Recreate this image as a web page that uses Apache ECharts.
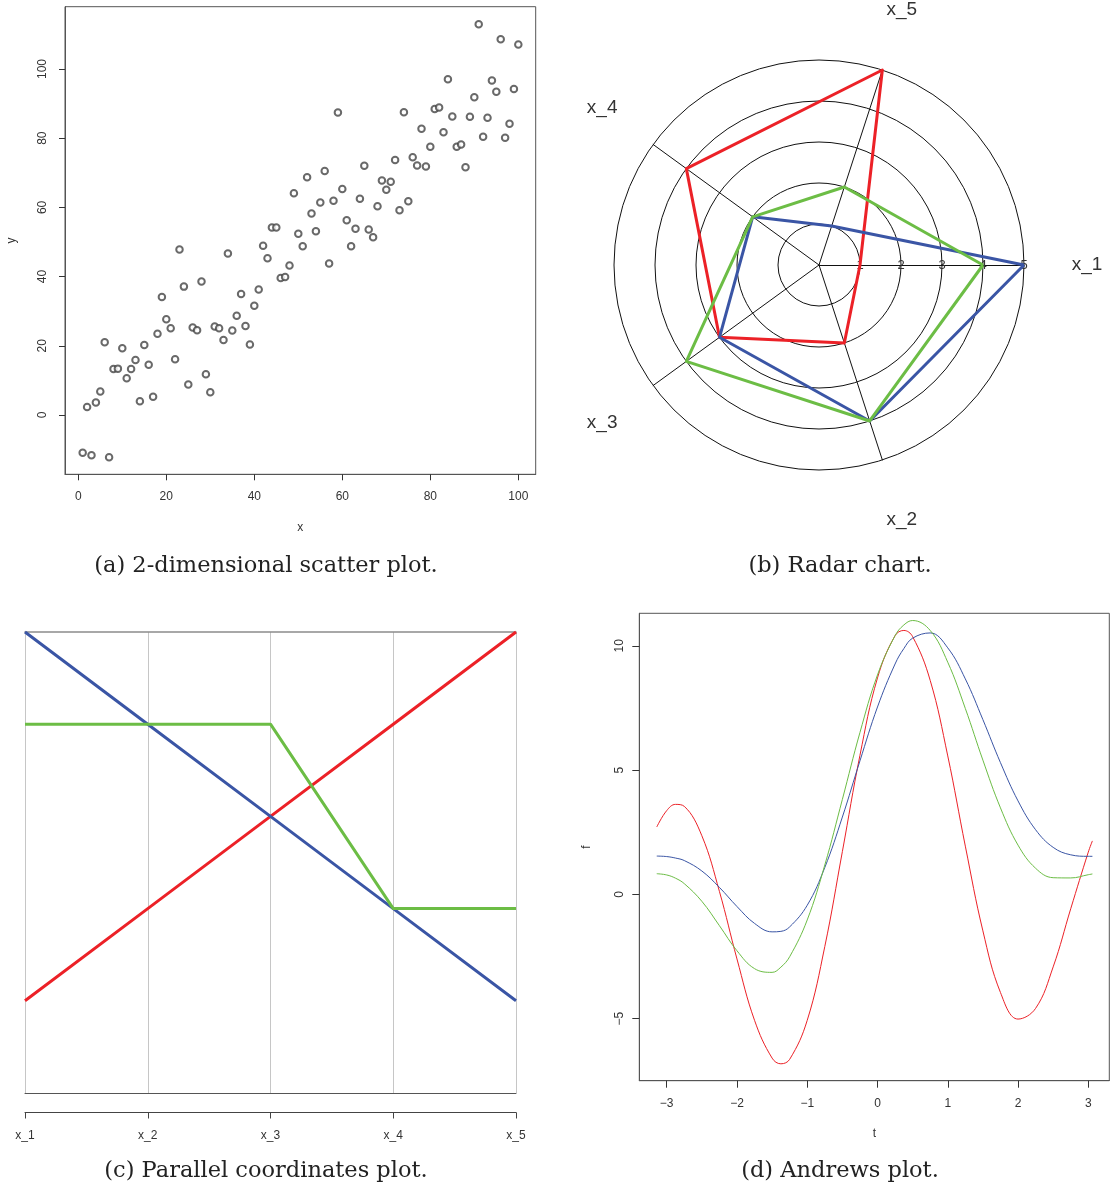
<!DOCTYPE html>
<html><head><meta charset="utf-8">
<script src="https://cdn.jsdelivr.net/npm/echarts@6/dist/echarts.min.js"></script>
<style>html,body{margin:0;padding:0;background:#fff}#c{width:1111px;height:1187px}</style>
</head><body><div id="c"></div>
<script>
// ---------- (a) scatter ----------
const scatterX = [1,2,3,4,5,6,7,8,9,10,11,12,13,14,15,16,17,18,19,20,21,22,23,24,25,26,27,28,29,30,31,32,33,34,35,36,37,38,39,40,41,42,43,44,45,46,47,48,49,50,51,52,53,54,55,56,57,58,59,60,61,62,63,64,65,66,67,68,69,70,71,72,73,74,75,76,77,78,79,80,81,82,83,84,85,86,87,88,89,90,91,92,93,94,95,96,97,98,99,100];
const scatterY = [-10.9,2.3,-11.6,3.6,6.8,21.0,-12.2,13.3,13.4,19.3,
  10.6,13.3,15.9,4.0,20.2,14.5,5.3,23.5,34.1,27.7,
  25.1,16.1,47.8,37.1,8.8,25.3,24.5,38.6,11.8,6.6,
  25.6,25.1,21.7,46.7,24.4,28.7,35.0,25.7,20.4,31.6,
  36.3,48.9,45.3,54.2,54.2,39.6,39.9,43.2,64.1,52.4,
  48.8,68.7,58.2,53.1,61.4,70.5,43.8,61.9,87.4,65.3,
  56.3,48.8,53.8,62.5,72.0,53.6,51.4,60.3,67.8,65.1,
  67.4,73.7,59.2,87.5,61.8,74.5,72.1,82.7,71.8,77.5,
  88.4,88.9,81.7,97.0,86.3,77.5,78.2,71.6,86.2,91.8,
  112.9,80.4,85.9,96.7,93.4,108.6,80.1,84.2,94.2,107.1];
const scatterTicks = [0,20,40,60,80,100];

// ---------- (b) radar / (c) parallel ----------
const varNames = ['x_1','x_2','x_3','x_4','x_5'];
const redVals = [1,2,3,4,5];
const blueVals = [5,4,3,2,1];
const greenVals = [4,4,4,2,2];
const radarMax = 5;

// ---------- (d) Andrews ----------
const andrewsT = [-3.1416,-3.0,-2.875,-2.75,-2.5,-2.25,-2.0,-1.75,-1.5,-1.375,-1.25,-1.0,-0.75,-0.5,-0.25,0,0.25,0.375,0.5,0.75,1.0,1.25,1.5,1.75,2.0,2.25,2.5,2.75,3.0,3.0584];
const andrewsRed = [2.71,3.37,3.62,3.54,2.36,0.12,-2.60,-5.07,-6.59,-6.82,-6.64,-5.07,-2.10,1.72,5.59,8.71,10.41,10.62,10.37,8.61,5.57,1.94,-1.47,-3.95,-5.02,-4.59,-2.92,-0.58,1.70,2.15];
const andrewsBlue = [1.54,1.52,1.46,1.36,0.94,0.28,-0.49,-1.17,-1.51,-1.49,-1.31,-0.44,1.08,3.11,5.37,7.54,9.27,9.89,10.31,10.52,9.92,8.67,7.03,5.30,3.76,2.60,1.89,1.59,1.53,1.53];
const andrewsGreen = [0.83,0.78,0.65,0.43,-0.28,-1.26,-2.27,-2.99,-3.14,-2.93,-2.51,-1.03,1.18,3.82,6.51,8.83,10.41,10.84,11.02,10.62,9.34,7.48,5.40,3.48,1.98,1.05,0.67,0.66,0.79,0.82];
const andrewsXTicks = [-3,-2,-1,0,1,2,3];
const andrewsYTicks = [-5,0,5,10];

const captions = ['(a) 2-dimensional scatter plot.','(b) Radar chart.','(c) Parallel coordinates plot.','(d) Andrews plot.'];

// ---------- styles ----------
const RED = '#ec2127', BLUE = '#3a55a5', GREEN = '#6cbd45';
const SANS = 'Liberation Sans, Arial, sans-serif';
const AX = '#333';
const minusFmt = v => (v < 0 ? '\u2212' + Math.abs(v) : String(v));

const chart = echarts.init(document.getElementById('c'), null, {renderer: 'canvas'});

// radar indicator order: ECharts lays indicators counter-clockwise from startAngle
const radarOrder = [0,4,3,2,1];
const reorder = arr => radarOrder.map(i => arr[i]);

const pair = (xs, ys) => xs.map((x, i) => [x, ys[i]]);

const option = {
  backgroundColor: '#fff',
  animation: false,
  title: captions.map((t, i) => ({
    text: t,
    left: [266, 840, 266, 840][i],
    top: [555, 555, 1160, 1160][i],
    textAlign: 'center',
    padding: 0,
    textStyle: {fontFamily: 'DejaVu Serif, serif', fontSize: 22.5, fontWeight: 'normal', color: '#222'}
  })),
  grid: [
    {left: 65, top: 6.7, width: 470.7, height: 467.6, show: true, borderColor: '#555', borderWidth: 1, containLabel: false},
    {left: 25, top: 632, width: 491, height: 461, show: false},
    {left: 639.3, top: 613.3, width: 470, height: 467.4, show: true, borderColor: '#555', borderWidth: 1}
  ],
  xAxis: [
    { // scatter x
      gridIndex: 0, type: 'value', min: -3.02, max: 103.95, position: 'bottom',
      name: 'x', nameLocation: 'middle', nameGap: 47,
      nameTextStyle: {fontFamily: SANS, fontSize: 12, color: AX},
      axisLine: {show: true, onZero: false, lineStyle: {color: '#555', width: 1}},
      axisTick: {show: true, length: 6, inside: false, customValues: scatterTicks, lineStyle: {color: '#333'}},
      axisLabel: {show: true, customValues: scatterTicks, margin: 16, fontFamily: SANS, fontSize: 12, color: AX},
      splitLine: {show: false}
    },
    { // parallel: axis with labels (offset below box)
      gridIndex: 1, type: 'category', data: varNames, boundaryGap: false, position: 'bottom', offset: 19.5,
      axisLine: {show: true, onZero: false, lineStyle: {color: '#444', width: 1}},
      axisTick: {show: true, length: 6, inside: false, alignWithLabel: true, lineStyle: {color: '#444'}},
      axisLabel: {show: true, margin: 17, fontFamily: SANS, fontSize: 12, color: AX, interval: 0},
      splitLine: {show: true, lineStyle: {color: '#c6c6c6', width: 1}}
    },
    { // parallel: box bottom line
      gridIndex: 1, type: 'category', data: varNames, boundaryGap: false, position: 'bottom', offset: 0,
      axisLine: {show: true, onZero: false, lineStyle: {color: '#555', width: 1}},
      axisTick: {show: false}, axisLabel: {show: false}, splitLine: {show: false}
    },
    { // parallel: box top line
      gridIndex: 1, type: 'category', data: varNames, boundaryGap: false, position: 'top', offset: 0,
      axisLine: {show: true, onZero: false, lineStyle: {color: '#8c8c8c', width: 1.5}},
      axisTick: {show: false}, axisLabel: {show: false}, splitLine: {show: false}
    },
    { // andrews t
      gridIndex: 2, type: 'value', min: -3.39, max: 3.299, position: 'bottom',
      name: 't', nameLocation: 'middle', nameGap: 47,
      nameTextStyle: {fontFamily: SANS, fontSize: 12, color: AX},
      axisLine: {show: true, onZero: false, lineStyle: {color: '#555', width: 1}},
      axisTick: {show: true, length: 7, inside: false, customValues: andrewsXTicks, lineStyle: {color: '#333'}},
      axisLabel: {show: true, customValues: andrewsXTicks, formatter: minusFmt, margin: 17, fontFamily: SANS, fontSize: 12, color: AX},
      splitLine: {show: false}
    }
  ],
  yAxis: [
    { // scatter y
      gridIndex: 0, type: 'value', min: -17.14, max: 118.0, position: 'left',
      name: 'y', nameLocation: 'middle', nameGap: 47, nameRotate: 90,
      nameTextStyle: {fontFamily: SANS, fontSize: 12, color: AX},
      axisLine: {show: true, onZero: false, lineStyle: {color: '#555', width: 1}},
      axisTick: {show: true, length: 6, inside: false, customValues: scatterTicks, lineStyle: {color: '#333'}},
      axisLabel: {show: true, customValues: scatterTicks, rotate: 90, margin: 16, fontFamily: SANS, fontSize: 12, color: AX},
      splitLine: {show: false}
    },
    { // parallel y (hidden)
      gridIndex: 1, type: 'value', min: 0, max: radarMax, show: false, splitLine: {show: false}
    },
    { // andrews f
      gridIndex: 2, type: 'value', min: -7.50, max: 11.31, position: 'left',
      name: 'f', nameLocation: 'middle', nameGap: 47, nameRotate: 90,
      nameTextStyle: {fontFamily: SANS, fontSize: 12, color: AX},
      axisLine: {show: true, onZero: false, lineStyle: {color: '#555', width: 1}},
      axisTick: {show: true, length: 7, inside: false, customValues: andrewsYTicks, lineStyle: {color: '#333'}},
      axisLabel: {show: true, customValues: andrewsYTicks, formatter: minusFmt, rotate: 90, margin: 14, fontFamily: SANS, fontSize: 12, color: AX},
      splitLine: {show: false}
    }
  ],
  radar: {
    center: [819, 265],
    radius: 205,
    startAngle: 0,
    shape: 'circle',
    splitNumber: 5,
    indicator: reorder(varNames).map((n, k) => k === 0
      ? {name: n, min: 0, max: radarMax, axisLabel: {show: true}}
      : {name: n, min: 0, max: radarMax}),
    nameGap: 63,
    axisName: {color: '#333', fontFamily: SANS, fontSize: 19, align: 'center', verticalAlign: 'middle'},
    axisLine: {show: true, lineStyle: {color: '#111', width: 1}},
    axisTick: {show: false},
    axisLabel: {show: false, margin: 0, align: 'center', verticalAlign: 'middle', showMinLabel: false,
      fontFamily: SANS, fontSize: 13, color: '#333', formatter: v => (v === 0 ? '' : String(v))},
    splitLine: {show: true, lineStyle: {color: '#111', width: 1}},
    splitArea: {show: false}
  },
  series: [
    {type: 'scatter', xAxisIndex: 0, yAxisIndex: 0, data: pair(scatterX, scatterY),
     symbol: 'emptyCircle', symbolSize: 6.5, itemStyle: {color: '#444', borderWidth: 0.7}, silent: true},

    {type: 'radar', symbol: 'none', silent: true,
     data: [
       {value: reorder(redVals), lineStyle: {color: RED, width: 3}},
       {value: reorder(blueVals), lineStyle: {color: BLUE, width: 3}},
       {value: reorder(greenVals), lineStyle: {color: GREEN, width: 3}}
     ]},

    {type: 'line', xAxisIndex: 1, yAxisIndex: 1, data: redVals, symbol: 'none', clip: false, lineStyle: {color: RED, width: 3}, silent: true},
    {type: 'line', xAxisIndex: 1, yAxisIndex: 1, data: blueVals, symbol: 'none', clip: false, lineStyle: {color: BLUE, width: 3}, silent: true},
    {type: 'line', xAxisIndex: 1, yAxisIndex: 1, data: greenVals, symbol: 'none', clip: false, lineStyle: {color: GREEN, width: 3}, silent: true},

    {type: 'line', xAxisIndex: 4, yAxisIndex: 2, data: pair(andrewsT, andrewsRed), symbol: 'none', smooth: 0.4, lineStyle: {color: RED, width: 1}, silent: true},
    {type: 'line', xAxisIndex: 4, yAxisIndex: 2, data: pair(andrewsT, andrewsBlue), symbol: 'none', smooth: 0.4, lineStyle: {color: BLUE, width: 1}, silent: true},
    {type: 'line', xAxisIndex: 4, yAxisIndex: 2, data: pair(andrewsT, andrewsGreen), symbol: 'none', smooth: 0.4, lineStyle: {color: GREEN, width: 1}, silent: true}
  ]
};
chart.setOption(option);
</script>
</body></html>
